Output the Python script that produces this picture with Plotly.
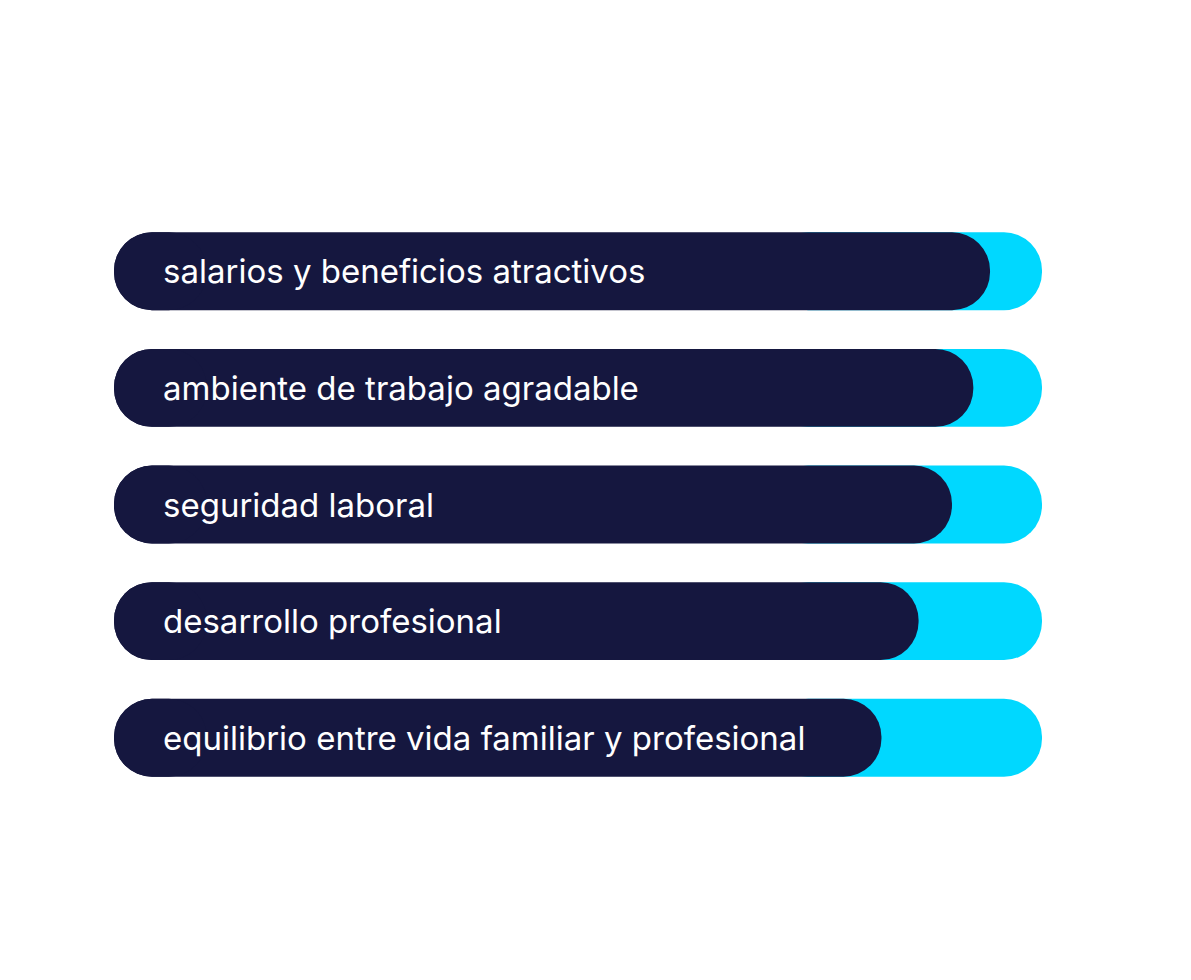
import plotly.graph_objects as go

# -- Datos
categorias = [
    "salarios y beneficios atractivos",
    "ambiente de trabajo agradable",
    "seguridad laboral",
    "desarrollo profesional",
    "equilibrio entre vida familiar y profesional",
]
valores = [94.4, 92.6, 90.3, 86.7, 82.7]
total = [100, 100, 100, 100, 100]
inicio_fondo = [70.7, 70.7, 70.7, 70.7, 70.7]

AZUL = "#15173f"
CIAN = "#00d8ff"

fig = go.Figure()

# -- Barra de fondo (cian), redondeada a la derecha
fig.add_trace(go.Bar(
    y=categorias,
    x=[t - b for t, b in zip(total, inicio_fondo)],
    base=inicio_fondo,
    orientation="h",
    marker=dict(color=CIAN, line_width=0, cornerradius="50%"),
    hoverinfo="skip",
))

# -- Barra principal (azul), redondeada a la derecha
fig.add_trace(go.Bar(
    y=categorias,
    x=valores,
    base=0,
    orientation="h",
    marker=dict(color=AZUL, line_width=0, cornerradius="50%"),
    hovertemplate="%{y}: %{x}<extra></extra>",
))

# -- Extremo izquierdo redondeado (barra hacia la izquierda)
tapa = 10
fig.add_trace(go.Bar(
    y=categorias,
    x=[-tapa] * len(categorias),
    base=tapa,
    orientation="h",
    marker=dict(color=AZUL, line_width=0, cornerradius="50%"),
    hoverinfo="skip",
))

# -- Etiquetas dentro de las barras
for cat in categorias:
    fig.add_annotation(
        x=0, y=cat, xref="x", yref="y",
        text=cat, showarrow=False,
        xanchor="left", xshift=47,
        font=dict(family="Inter", size=33, color="white"),
    )

fig.update_layout(
    width=1191,
    height=980,
    barmode="overlay",
    bargap=0.332,
    showlegend=False,
    plot_bgcolor="white",
    paper_bgcolor="white",
    margin=dict(l=106, r=157, t=205, b=192),
)
fig.update_xaxes(range=[0, 100], visible=False)
fig.update_yaxes(autorange="reversed", visible=False)

fig.write_html("out.html")
